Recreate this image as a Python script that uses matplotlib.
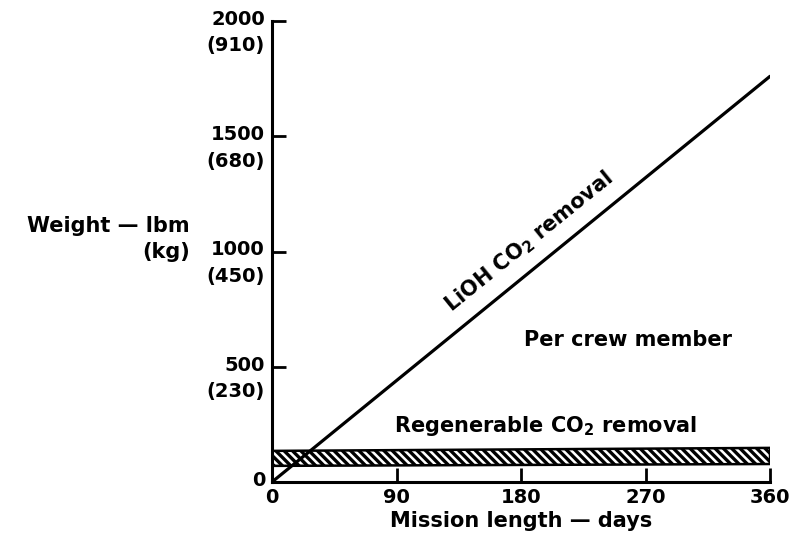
import matplotlib
matplotlib.use("Agg")
import matplotlib.pyplot as plt
from matplotlib.transforms import ScaledTranslation

# ---- data ----
days = [0, 360]
lioh = [0, 1760]
regen_low = [70, 78]
regen_high = [135, 148]
x_ticks = [0, 90, 180, 270, 360]
x_tick_labels = ["0", "90", "180", "270", "360"]
y_ticks = [0, 500, 1000, 1500, 2000]
y_tick_labels = ["0", "500\n(230)", "1000\n(450)", "1500\n(680)", "2000\n(910)"]

plt.rcParams['font.family'] = ['DejaVu Sans']
plt.rcParams['font.weight'] = 'bold'
plt.rcParams['mathtext.fontset'] = 'dejavusans'
plt.rcParams['mathtext.default'] = 'bf'
plt.rcParams['hatch.linewidth'] = 2.4

FW = 'bold'
fig = plt.figure(figsize=(7.99, 5.44), dpi=100)
ax = fig.add_axes([272/799, 1-482/544, (770-272)/799, (482-21)/544])

ax.plot(days, lioh, color='black', lw=2.3, solid_capstyle='round')
ax.fill_between(days, regen_low, regen_high, facecolor='white', edgecolor='black',
                hatch=r'\\\\', linewidth=1.8)

ax.set_xlim(0, 360)
ax.set_ylim(0, 2000)
for s in ['top', 'right']:
    ax.spines[s].set_visible(False)
for s in ['left', 'bottom']:
    ax.spines[s].set_linewidth(2.2)

ax.set_xticks(x_ticks)
ax.set_xticklabels(x_tick_labels, fontsize=14, fontweight=FW)
ax.set_yticks(y_ticks)
ax.set_yticklabels(y_tick_labels, fontsize=14, fontweight=FW, linespacing=1.5)
ax.tick_params(axis='both', direction='in', length=10, width=2)
ax.tick_params(axis='x', pad=4)
ax.tick_params(axis='y', pad=5)

for lab in ax.get_yticklabels():
    lab.set_verticalalignment('top')
    lab.set_transform(lab.get_transform() + ScaledTranslation(0, 8/72, fig.dpi_scale_trans))

ax.set_xlabel("Mission length — days", fontsize=15, fontweight=FW, labelpad=3)
fig.text(190/799, 1-239/544, "Weight — lbm\n(kg)", ha='right', va='center',
         multialignment='right', fontsize=15, fontweight=FW, linespacing=1.35)

ax.text(186, 1040, r"LiOH CO$_2$ removal", rotation=39, ha='center', va='center',
        fontsize=15, fontweight=FW, rotation_mode='anchor')
ax.text(257, 615, "Per crew member", ha='center', va='center', fontsize=15, fontweight=FW)
ax.text(198, 245, r"Regenerable CO$_2$ removal", ha='center', va='center',
        fontsize=15, fontweight=FW)

fig.savefig("out.png", dpi=100)
